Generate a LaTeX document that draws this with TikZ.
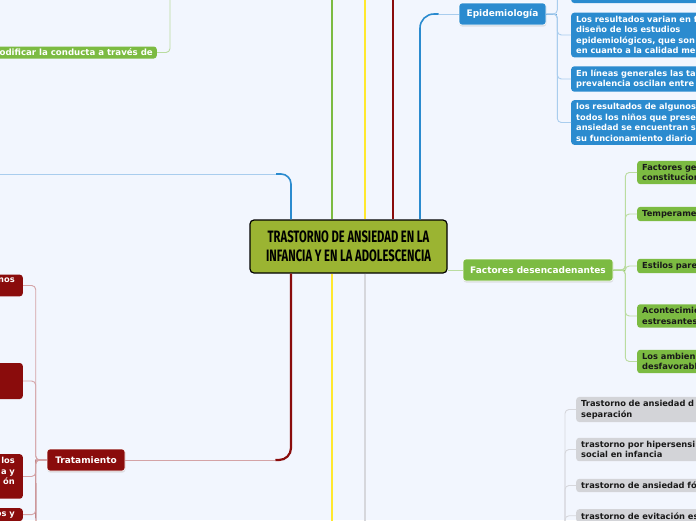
\documentclass[tikz,border=0pt]{standalone}
\usepackage{fontspec}
\usepackage{xcolor}
\usetikzlibrary{shadows}
\newfontfamily\mapfont{DejaVu Sans}
\newfontfamily\titlefont[FakeStretch=0.68]{Fira Sans}
\definecolor{bgcol}{HTML}{F2F6FE}
\definecolor{centralgreen}{HTML}{9BB432}
\definecolor{epiblue}{HTML}{2B8BCF}
\definecolor{lightblue}{HTML}{A9CDEE}
\definecolor{leafgreen}{HTML}{7CBB42}
\definecolor{lightgreen}{HTML}{BADCA0}
\definecolor{darkred}{HTML}{8A0C0C}
\definecolor{lightred}{HTML}{D4A3A6}
\definecolor{sungold}{HTML}{FFE82E}
\definecolor{greybox}{HTML}{D3D4D8}
\definecolor{greyline}{HTML}{D6D7DC}

\begin{document}
\begin{tikzpicture}[
  x=1pt, y=-1pt,
  central/.style={draw=black, line width=1.2pt, fill=centralgreen, rounded corners=4pt, minimum width=197, minimum height=53, align=center, font=\titlefont\bfseries\fontsize{16.5}{19}\selectfont},
  topic/.style={rounded corners=3pt, draw=white, line width=0.6pt, text=white, minimum height=22, inner xsep=6pt, font=\mapfont\bfseries\fontsize{9}{10}\selectfont, drop shadow={shadow xshift=0.4pt, shadow yshift=-1.6pt, fill=black!22}},
  leaf/.style={rounded corners=3pt, align=left, inner xsep=4pt, inner ysep=3.2pt, minimum width=170, text width=160, font=\mapfont\bfseries\fontsize{8.3}{10.6}\selectfont},
  epileaf/.style={leaf, fill=epiblue, text=white, anchor=west},
  greenleaf/.style={leaf, fill=leafgreen, text=black!90, anchor=west},
  greyleaf/.style={leaf, fill=greybox, text=black!90, anchor=west},
  redleaf/.style={leaf, fill=darkred, text=white, align=right, anchor=east, inner xsep=8pt, minimum width=120, text width=104},
  trunk/.style={line width=1.6pt},
  twig/.style={line width=0.9pt}
]
  \fill[bgcol] (0,0) rectangle (696,520);
  \useasboundingbox (0,0) rectangle (696,520);
  \clip (0,0) rectangle (696,520);

  \coordinate (greenTop) at (332,-5);
  \coordinate (goldTop) at (365,-5);
  \coordinate (redTop) at (393,-5);
  \coordinate (goldBot) at (332,525);
  \coordinate (greyBot) at (365,525);
  \coordinate (blueLeft) at (-5,174);
  \coordinate (modTop) at (170,-5);
  \coordinate (greyRight) at (565,530);
  \coordinate (tratBot) at (36,530);

  \node[central] (center) at (348.5,246.5) {TRASTORNO DE ANSIEDAD EN LA\\INFANCIA Y EN LA ADOLESCENCIA};

  \node[topic, fill=epiblue, minimum width=87] (epi) at (502.5,14) {Epidemiología};
  \node[topic, fill=leafgreen, minimum width=150] (fact) at (538,270) {Factores desencadenantes};
  \node[topic, fill=darkred, minimum width=78] (trat) at (86,460) {Tratamiento};
  \node[leaf, fill=leafgreen, text=white, anchor=east, minimum width=0, text width=, inner ysep=2.5pt, font=\mapfont\bfseries\fontsize{8.6}{10.6}\selectfont] (mod) at (157,52.5) {Modificar la conducta a través de};

  \node[epileaf, minimum height=24] (e1) at (571,-9) {};
  \node[epileaf] (e2) at (571,35) {Los resultados varian en f\\diseño de los estudios\\epidemiológicos, que son\\en cuanto a la calidad me};
  \node[epileaf] (e3) at (571,79) {En líneas generales las ta\\prevalencia oscilan entre};
  \node[epileaf] (e4) at (571,122.5) {los resultados de algunos\\todos los niños que prese\\ansiedad se encuentran s\\su funcionamiento diario};

  \node[greenleaf] (f1) at (637,172.5) {Factores ge\\constitucion};
  \node[greenleaf] (f2) at (637,214) {Temperame};
  \node[greenleaf] (f3) at (637,266) {Estilos pare};
  \node[greenleaf] (f4) at (637,316) {Acontecimie\\estresantes};
  \node[greenleaf] (f5) at (637,361.5) {Los ambien\\desfavorabl};

  \node[greyleaf] (g1) at (576,409.5) {Trastorno de ansiedad d\\separación};
  \node[greyleaf] (g2) at (576,449.5) {trastorno por hipersensi\\social en infancia};
  \node[greyleaf] (g3) at (576,485.5) {trastorno de ansiedad fó};
  \node[greyleaf, anchor=north west] (g4) at (576,509) {trastorno de evitación es};

  \node[redleaf] (t1) at (23,285.5) {nos\\\mbox{}};
  \node[redleaf, minimum height=36] (t2) at (23,381) {};
  \node[redleaf, anchor=north east] (t3) at (23,454) {los\\a y\\ón\\\mbox{}};
  \node[redleaf, anchor=north east] (t4) at (23,508) {os y};

  \draw[trunk, leafgreen] (center.north -| greenTop) -- (greenTop);
  \draw[trunk, sungold] (center.north -| goldTop) -- (goldTop);
  \draw[trunk, darkred] (center.north -| redTop) -- (redTop);
  \draw[trunk, sungold] (center.south -| goldBot) -- (goldBot);
  \draw[trunk, greyline] (center.south -| greyBot) -- (greyBot);
  \draw[trunk, epiblue, rounded corners=10] (center.north -| 291,0) |- (276,174);
  \draw[twig, lightblue] (276,174) -- (blueLeft);
  \draw[trunk, epiblue, rounded corners=14] (center.north -| 420,0) |- ([xshift=-20]epi.west);
  \draw[twig, lightblue] ([xshift=-20]epi.west) -- (epi.west);
  \draw[trunk, darkred, line width=2.2pt, rounded corners=12] (center.south -| 291,0) |- ([xshift=150]trat.east);
  \draw[twig, lightred] ([xshift=150]trat.east) -- (trat.east);
  \draw[twig, lightgreen] (center.east |- fact.west) -- (fact.west);
  \draw[twig, lightgreen, rounded corners=4] (mod.east) -| (modTop);

  \draw[twig, epiblue] (epi.east) -- ++(11,0);
  \foreach \n in {e1,e2,e3,e4}
    \draw[twig, lightblue, rounded corners=4] (epi.east) -- ++(11,0) |- (\n.west);
  \draw[twig, leafgreen] (fact.east) -- ++(12,0);
  \foreach \n in {f1,f2,f3,f4,f5}
    \draw[twig, lightgreen, rounded corners=4] (fact.east) -- ++(12,0) |- (\n.west);
  \foreach \n in {g1,g2,g3,g4}
    \draw[twig, greyline, rounded corners=4] (greyRight) |- (\n.west);
  \draw[twig, darkred!75] (trat.west) -- ++(-11,0) -- (tratBot);
  \foreach \n in {t1,t2,t3,t4}
    \draw[twig, lightred, rounded corners=4] (trat.west) -- ++(-11,0) |- (\n.east);
\end{tikzpicture}
\end{document}
